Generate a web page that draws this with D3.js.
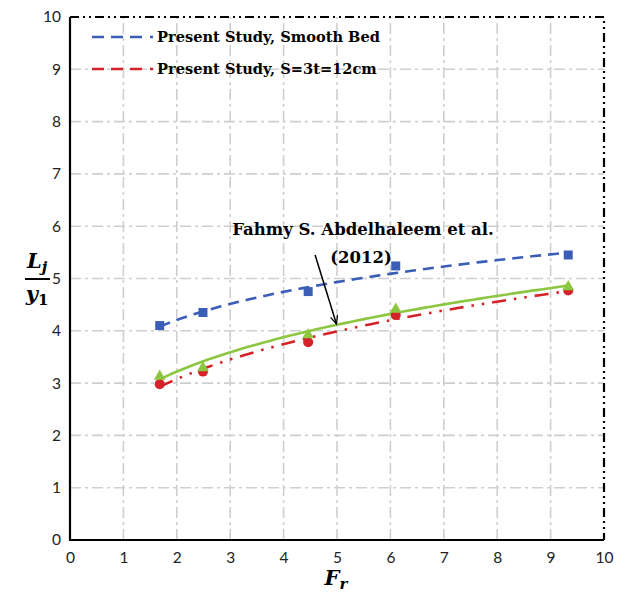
<!DOCTYPE html>
<html>
<head>
<meta charset="utf-8">
<script src="https://cdn.jsdelivr.net/npm/d3@7"></script>
<style>
  html, body { margin: 0; padding: 0; background: #fff; }
  svg { display: block; }
</style>
</head>
<body>
<svg id="chart" width="624" height="596"></svg>
<script>
// Froude number of each run
const froude = [1.68, 2.49, 4.46, 6.10, 9.33];
// Relative jump length Lj/y1
const smoothBed = [4.10, 4.35, 4.75, 5.24, 5.45];
const roughBed = [2.98, 3.22, 3.78, 4.30, 4.77];
const abdelhaleem = [3.15, 3.31, 3.94, 4.43, 4.86];
const xTicks = [0, 1, 2, 3, 4, 5, 6, 7, 8, 9, 10];
const yTicks = [0, 1, 2, 3, 4, 5, 6, 7, 8, 9, 10];
const legendLabels = ["Present Study, Smooth Bed", "Present Study, S=3t=12cm"];
const noteLines = ["Fahmy S. Abdelhaleem et al.", "(2012)"];

const svg = d3.select("#chart");
const x = d3.scaleLinear().domain([0, 10]).range([70, 604]);
const y = d3.scaleLinear().domain([0, 10]).range([540, 17]);

const serif = "'DejaVu Serif', 'Liberation Serif', serif";
const sans = "Lato, 'Open Sans', sans-serif";

// least-squares power trendline y = a * x^b
function powerFit(xs, ys) {
  const lx = xs.map(Math.log), ly = ys.map(Math.log);
  const mx = d3.mean(lx), my = d3.mean(ly);
  const b = d3.sum(lx, (v, i) => (v - mx) * (ly[i] - my)) / d3.sum(lx, v => (v - mx) ** 2);
  const a = Math.exp(my - b * mx);
  return v => a * Math.pow(v, b);
}
function trendPoints(xs, ys) {
  const f = powerFit(xs, ys);
  const lo = d3.min(xs), hi = d3.max(xs);
  return d3.range(0, 61).map(i => { const v = lo + (hi - lo) * i / 60; return [v, f(v)]; });
}

// grid
const grid = svg.append("g").attr("stroke", "#cfcfcf").attr("stroke-width", 1.6)
  .attr("stroke-dasharray", "11,4,3,4").attr("fill", "none");
xTicks.slice(1, -1).forEach(t => grid.append("line")
  .attr("x1", x(t)).attr("x2", x(t)).attr("y1", y(0)).attr("y2", y(10)));
yTicks.slice(1, -1).forEach(t => grid.append("line")
  .attr("x1", x(0)).attr("x2", x(10)).attr("y1", y(t)).attr("y2", y(t)));

// frame: solid left/bottom, dash-dot-dot top/right
svg.append("path").attr("d", `M${x(0)},${y(10)}V${y(0)}H${x(10)}`)
  .attr("fill", "none").attr("stroke", "#000").attr("stroke-width", 2.2);
svg.append("path").attr("d", `M${x(0)},${y(10)}H${x(10)}V${y(0)}`)
  .attr("fill", "none").attr("stroke", "#000").attr("stroke-width", 2.2)
  .attr("stroke-dasharray", "9,4,2,4,2,4");

// axes
const xAxis = svg.append("g").attr("transform", `translate(0,${y(0)})`)
  .call(d3.axisBottom(x).tickValues(xTicks).tickSize(0).tickPadding(12).tickFormat(d3.format("d")));
const yAxis = svg.append("g").attr("transform", `translate(${x(0)},0)`)
  .call(d3.axisLeft(y).tickValues(yTicks).tickSize(0).tickPadding(9).tickFormat(d3.format("d")));
[xAxis, yAxis].forEach(g => {
  g.select(".domain").remove();
  g.selectAll("text").attr("font-family", sans).attr("font-size", 15.5).attr("fill", "#222");
});

// trendlines
const line = d3.line().x(d => x(d[0])).y(d => y(d[1])).curve(d3.curveLinear);
const blue = "#3a5db8", red = "#d42228", green = "#8dc640";

svg.append("path").datum(trendPoints(froude, smoothBed)).attr("d", line)
  .attr("fill", "none").attr("stroke", blue).attr("stroke-width", 2.6)
  .attr("stroke-dasharray", "11,7");
svg.append("path").datum(trendPoints(froude, roughBed)).attr("d", line)
  .attr("fill", "none").attr("stroke", red).attr("stroke-width", 2.6)
  .attr("stroke-dasharray", "14,8,2.5,8,2.5,8");
svg.append("path").datum(trendPoints(froude, abdelhaleem)).attr("d", line)
  .attr("fill", "none").attr("stroke", green).attr("stroke-width", 2.6);

// markers
svg.append("g").selectAll("rect").data(froude).join("rect")
  .attr("x", (d) => x(d) - 4.5).attr("y", (d, i) => y(smoothBed[i]) - 4.5)
  .attr("width", 9).attr("height", 9).attr("fill", blue);
svg.append("g").selectAll("circle").data(froude).join("circle")
  .attr("cx", d => x(d)).attr("cy", (d, i) => y(roughBed[i])).attr("r", 5).attr("fill", red);
const tri = d3.symbol().type(d3.symbolTriangle).size(60);
svg.append("g").selectAll("path").data(froude).join("path")
  .attr("d", tri).attr("transform", (d, i) => `translate(${x(d)},${y(abdelhaleem[i]) + 1})`)
  .attr("fill", green);

// legend
const legend = svg.append("g");
[[blue, 37], [red, 69]].forEach(([c, ly], i) => {
  legend.append("line").attr("x1", 92).attr("x2", 154).attr("y1", ly).attr("y2", ly)
    .attr("stroke", c).attr("stroke-width", 2.6).attr("stroke-dasharray", "12,7,12,7,12,8,3,20");
  legend.append("text").attr("x", 157).attr("y", ly + 5).text(legendLabels[i])
    .attr("font-family", serif).attr("font-weight", "bold").attr("font-size", 14.6).attr("fill", "#000");
});

// annotation with arrow
const defs = svg.append("defs");
defs.append("marker").attr("id", "arrow").attr("viewBox", "0 0 10 10")
  .attr("refX", 9).attr("refY", 5).attr("markerWidth", 9).attr("markerHeight", 9)
  .attr("orient", "auto").attr("markerUnits", "userSpaceOnUse")
  .append("path").attr("d", "M0,1 L9,5 L0,9").attr("fill", "none").attr("stroke", "#000").attr("stroke-width", 1.4);
svg.append("line").attr("x1", x(4.59)).attr("y1", y(5.45)).attr("x2", x(4.99)).attr("y2", y(4.13))
  .attr("stroke", "#000").attr("stroke-width", 1.5).attr("marker-end", "url(#arrow)");
noteLines.forEach((t, i) => svg.append("text").attr("x", i ? 361 : 363).attr("y", i ? 263 : 235)
  .attr("text-anchor", "middle").text(t)
  .attr("font-family", serif).attr("font-weight", "bold").attr("font-size", 16.5).attr("fill", "#000"));

// axis titles
const mathFont = "'DejaVu Serif', serif";
const xt = svg.append("text").attr("x", 336).attr("y", 585).attr("text-anchor", "middle")
  .attr("font-family", mathFont).attr("font-weight", "bold").attr("font-style", "italic").attr("font-size", 21);
xt.append("tspan").text("F");
xt.append("tspan").text("r").attr("font-size", 15).attr("dy", 4);

const yt = svg.append("g").attr("font-family", mathFont).attr("font-weight", "bold").attr("font-style", "italic");
const num = yt.append("text").attr("x", 37).attr("y", 268).attr("text-anchor", "middle").attr("font-size", 21);
num.append("tspan").text("L");
num.append("tspan").text("j").attr("font-size", 15).attr("dy", 4);
yt.append("line").attr("x1", 25).attr("x2", 50).attr("y1", 279).attr("y2", 279)
  .attr("stroke", "#000").attr("stroke-width", 2);
const den = yt.append("text").attr("x", 37).attr("y", 301).attr("text-anchor", "middle").attr("font-size", 21);
den.append("tspan").text("y");
den.append("tspan").text("1").attr("font-size", 15).attr("dy", 4).attr("font-style", "normal");
</script>
</body>
</html>
